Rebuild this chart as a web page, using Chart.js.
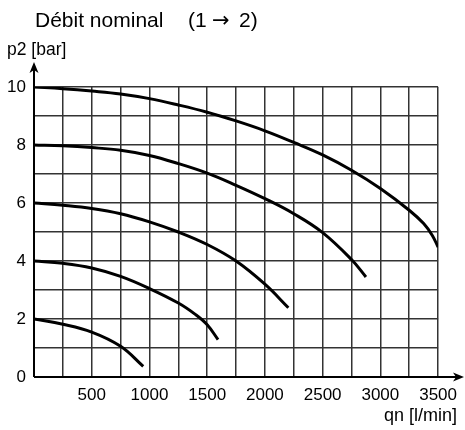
<!DOCTYPE html>
<html><head><meta charset="utf-8">
<script src="https://cdn.jsdelivr.net/npm/chart.js@4"></script>
<style>html,body{margin:0;padding:0;background:#fff}#wrap{width:465px;height:430px}</style>
</head><body><div id="wrap"><canvas id="c"></canvas></div>
<script>
const titleMain = "Débit nominal";
const titleFlowParts = ["(1", "\u2192", "2)"];
const yTitle = "p2 [bar]";
const xTitle = "qn [l/min]";
const xTickLabels = [500, 1000, 1500, 2000, 2500, 3000, 3500];
const yTickLabels = [0, 2, 4, 6, 8, 10];

const c10x = [0, 250, 500, 750, 1000, 1250, 1500, 1750, 2000, 2250, 2500, 2750, 3000, 3250, 3375, 3450, 3500];
const c10y = [10, 9.94, 9.86, 9.76, 9.6, 9.38, 9.13, 8.83, 8.49, 8.09, 7.66, 7.13, 6.50, 5.75, 5.29, 4.88, 4.48];
const c8x = [0, 250, 500, 750, 1000, 1250, 1500, 1750, 2000, 2250, 2500, 2750, 2875];
const c8y = [8, 7.97, 7.91, 7.82, 7.64, 7.36, 7.03, 6.61, 6.15, 5.63, 4.98, 4.05, 3.45];
const c6x = [0, 250, 500, 750, 1000, 1250, 1500, 1750, 2000, 2203];
const c6y = [6, 5.92, 5.81, 5.63, 5.35, 5.0, 4.57, 4.0, 3.2, 2.39];
const c4x = [0, 250, 500, 750, 1000, 1250, 1400, 1500, 1594];
const c4y = [4, 3.92, 3.76, 3.47, 3.05, 2.55, 2.15, 1.8, 1.29];
const c2x = [0, 250, 500, 750, 946];
const c2y = [2, 1.82, 1.55, 1.06, 0.37];

const curves = [[c10x, c10y], [c8x, c8y], [c6x, c6y], [c4x, c4y], [c2x, c2y]];
const FONT = "Liberation Sans, Arial, sans-serif";

const decor = {
  id: 'decor',
  afterDraw(chart) {
    const ctx = chart.ctx;
    const xs = chart.scales.x, ys = chart.scales.y;
    const x0 = xs.getPixelForValue(0), y0 = ys.getPixelForValue(0);
    ctx.save();
    ctx.strokeStyle = '#000'; ctx.fillStyle = '#000'; ctx.lineWidth = 2;
    ctx.beginPath(); ctx.moveTo(x0, y0); ctx.lineTo(x0, 66); ctx.stroke();
    ctx.beginPath(); ctx.moveTo(x0, 62); ctx.lineTo(x0 - 4.5, 73); ctx.lineTo(x0, 70); ctx.lineTo(x0 + 4.5, 73); ctx.closePath(); ctx.fill();
    ctx.beginPath(); ctx.moveTo(x0, y0); ctx.lineTo(459, y0); ctx.stroke();
    ctx.beginPath(); ctx.moveTo(464, y0); ctx.lineTo(453, y0 - 4.5); ctx.lineTo(456, y0); ctx.lineTo(453, y0 + 4.5); ctx.closePath(); ctx.fill();
    ctx.textBaseline = 'alphabetic';
    ctx.textAlign = 'left';
    ctx.font = '21px ' + FONT;
    ctx.fillText(titleMain, 35, 27);
    ctx.fillText(titleFlowParts[0], 188, 27);
    ctx.font = '21px DejaVu Sans';
    ctx.fillText(titleFlowParts[1], 212, 27);
    ctx.font = '21px ' + FONT;
    ctx.fillText(titleFlowParts[2], 239, 27);
    ctx.font = '17.5px ' + FONT;
    ctx.fillText(yTitle, 7, 55);
    ctx.textAlign = 'right';
    ctx.font = '18px ' + FONT;
    ctx.fillText(xTitle, 457, 421);
    ctx.restore();
  }
};

new Chart(document.getElementById('c'), {
  type: 'scatter',
  data: {
    datasets: curves.map(c => ({
      data: c[0].map((x, i) => ({x: x, y: c[1][i]})),
      showLine: true,
      borderColor: '#000',
      borderWidth: 3,
      pointRadius: 0,
      tension: 0.4,
      fill: false
    }))
  },
  options: {
    responsive: true,
    maintainAspectRatio: false,
    animation: false,
    devicePixelRatio: 1,
    layout: { padding: { top: 87, right: 24, left: 0, bottom: 0 } },
    plugins: { legend: { display: false }, tooltip: { enabled: false }, title: { display: false } },
    scales: {
      x: {
        type: 'linear', min: 0, max: 3500,
        afterFit: s => { s.height = 53; },
        border: { display: false },
        grid: { color: '#333', lineWidth: 1.5, drawTicks: false },
        ticks: {
          stepSize: 250, autoSkip: false, maxRotation: 0, padding: 8,
          color: '#000', font: { family: FONT, size: 17 },
          callback: v => xTickLabels.includes(v) ? String(v) : ''
        }
      },
      y: {
        type: 'linear', min: 0, max: 10,
        afterFit: s => { s.width = 34; },
        border: { display: false },
        grid: { color: '#333', lineWidth: 1.5, drawTicks: false },
        ticks: {
          stepSize: 1, autoSkip: false, padding: 8,
          color: '#000', font: { family: FONT, size: 17 },
          callback: v => yTickLabels.includes(v) ? String(v) : ''
        }
      }
    }
  },
  plugins: [decor]
});
</script></body></html>
